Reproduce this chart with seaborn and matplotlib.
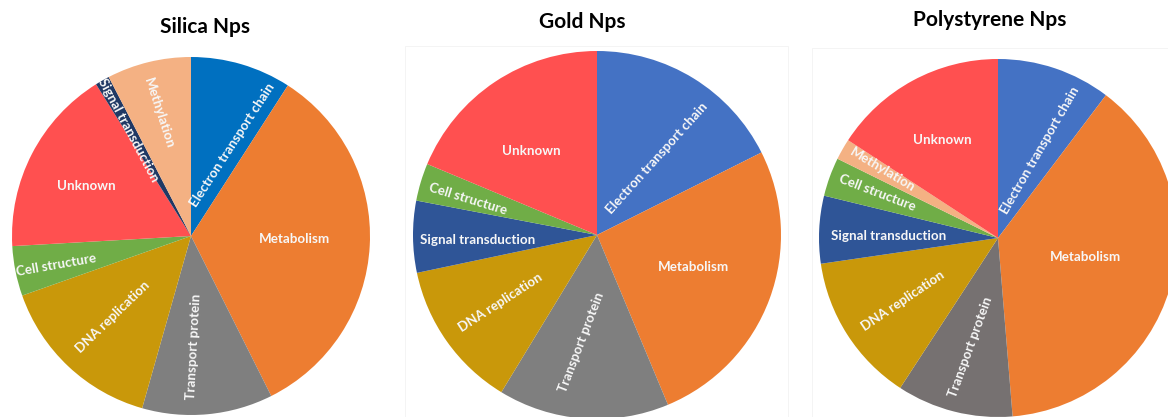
import matplotlib
matplotlib.use("Agg")
import matplotlib.pyplot as plt
from matplotlib.patches import Rectangle
import numpy as np
import seaborn as sns

# Share of proteins per functional category (percent), listed clockwise from 12 o'clock
silica_labels = ["Electron transport chain", "Metabolism", "Transport protein", "DNA replication",
                 "Cell structure", "Unknown", "Signal transduction", "Methylation"]
silica_values = [9.1, 33.5, 11.8, 15.2, 4.5, 17.0, 1.3, 7.6]

gold_labels = ["Electron transport chain", "Metabolism", "Transport protein", "DNA replication",
               "Signal transduction", "Cell structure", "Unknown"]
gold_values = [17.6, 26.1, 15.0, 13.0, 6.3, 3.3, 18.7]

poly_labels = ["Electron transport chain", "Metabolism", "Transport protein", "DNA replication",
               "Signal transduction", "Cell structure", "Methylation", "Unknown"]
poly_values = [10.3, 38.4, 10.5, 13.5, 6.1, 3.5, 1.9, 15.8]

titles = ["Silica Nps", "Gold Nps", "Polystyrene Nps"]

# Category colours
base_colors = {
    "Electron transport chain": "#4472C4",
    "Metabolism": "#ED7D31",
    "Transport protein": "#7F7F7F",
    "DNA replication": "#C9980A",
    "Cell structure": "#70AD47",
    "Unknown": "#FF5050",
    "Signal transduction": "#2F5597",
    "Methylation": "#F4B183",
}
silica_colors = dict(base_colors, **{"Electron transport chain": "#0070C0",
                                     "Signal transduction": "#203864"})
gold_colors = dict(base_colors)
poly_colors = dict(base_colors, **{"Transport protein": "#767171"})

# Label placement: (radius fraction, clockwise angle nudge, text rotation)
silica_style = [(0.56, 8, 57), (0.58, -1.5, 0), (0.62, 4, 87), (0.63, 1, 44),
                (0.77, -0.7, 10), (0.65, -2, 0), (0.69, -1, -62), (0.71, -1, -72)]
gold_style = [(0.53, 6, 48), (0.55, -2, 0), (0.59, 4, 69), (0.64, 0, 33),
              (0.65, -2, 0), (0.73, -1, -17), (0.58, -4, 0)]
poly_style = [(0.54, 7, 60), (0.50, -4, 0), (0.63, 0, 70), (0.64, -1, 34),
              (0.61, -1.5, 0), (0.72, 0.7, -21), (0.75, 1, -31), (0.63, -1, 0)]

sns.set_theme(style="white")
plt.rcParams["font.family"] = ["Lato", "DejaVu Sans"]

W, H = 1168, 417
fig = plt.figure(figsize=(W / 100, H / 100), dpi=100)
ax = fig.add_axes([0, 0, 1, 1])

# Light panel frames behind the second and third pies
ax.add_patch(Rectangle((405, -10), 383, H - 46 + 10, facecolor="none",
                       edgecolor="#F2F2F2", linewidth=0.6, zorder=0))
ax.add_patch(Rectangle((812, -10), 400, H - 48 + 10, facecolor="none",
                       edgecolor="#F2F2F2", linewidth=0.6, zorder=0))

panels = [
    (silica_labels, silica_values, silica_colors, silica_style, (191, H - 236), 179, (205, H - 27)),
    (gold_labels, gold_values, gold_colors, gold_style, (597, H - 235), 184, (582, H - 22)),
    (poly_labels, poly_values, poly_colors, poly_style, (998, H - 238), 179, (990, H - 20)),
]

for (labels, values, cmap, style, center, radius, tpos), title in zip(panels, titles):
    wedges, _ = ax.pie(values, colors=[cmap[l] for l in labels], startangle=90,
                       counterclock=False, center=center, radius=radius,
                       wedgeprops=dict(linewidth=0, antialiased=True))
    for w, lab, (rf, nudge, rot) in zip(wedges, labels, style):
        mid = np.deg2rad((w.theta1 + w.theta2) / 2 - nudge)
        x = center[0] + rf * radius * np.cos(mid)
        y = center[1] + rf * radius * np.sin(mid)
        ax.text(x, y, lab, color="#F7F7F7", fontsize=9.6, fontweight="bold",
                rotation=rot, rotation_mode="anchor", ha="center", va="center")
    ax.text(tpos[0], tpos[1], title, fontsize=15, fontweight="bold",
            color="black", ha="center", va="center")

ax.set_xlim(0, W)
ax.set_ylim(0, H)
ax.set_aspect("auto")
ax.axis("off")

fig.savefig("out.png", dpi=100, facecolor="white")
